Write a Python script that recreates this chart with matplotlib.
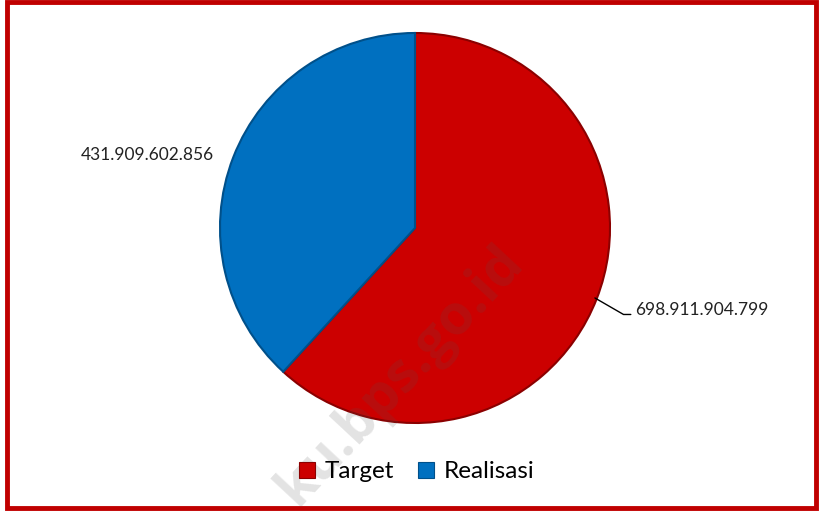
import matplotlib.pyplot as plt
import numpy as np
from matplotlib.patches import Rectangle

# data
labels = ['Target', 'Realisasi']
values = [698911904799, 431909602856]
value_text = ['698.911.904.799', '431.909.602.856']
colors = ['#CC0000', '#0070C0']
edge_colors = ['#8B0000', '#00508A']

plt.rcParams['font.family'] = ['Lato', 'DejaVu Sans']

W, H = 819, 513
fig = plt.figure(figsize=(W / 100, H / 100), dpi=100)

# red frame around the whole chart
fig.patches.append(Rectangle((7 / W, 5 / H), (816 - 7) / W, (511 - 5) / H,
                             transform=fig.transFigure, fill=False,
                             edgecolor='#C00000', linewidth=3.5))

cx, cy, r = 415, 228, 195
ax = fig.add_axes([(cx - r) / W, (H - cy - r) / H, 2 * r / W, 2 * r / H])
wedges, _ = ax.pie(values, colors=colors, startangle=90, counterclock=False,
                   radius=1.0, wedgeprops=dict(linewidth=1.5))
for w, ec in zip(wedges, edge_colors):
    w.set_edgecolor(ec)
ax.set_xlim(-1, 1)
ax.set_ylim(-1, 1)
ax.set_aspect('equal')
ax.axis('off')

# data labels
mids = [np.deg2rad((w.theta1 + w.theta2) / 2) for w in wedges]
# Target: leader line
m = mids[0]
px, py = np.cos(m) * 0.99, np.sin(m) * 0.99
ax.annotate(value_text[0], xy=(px, py), xytext=(1.128, py - 0.06),
            fontsize=12.5, va='center', ha='left', color='#222222',
            arrowprops=dict(arrowstyle='-', color='black', lw=1,
                            connectionstyle='angle,angleA=180,angleB=-30,rad=0',
                            shrinkA=1, shrinkB=0, relpos=(0, 0.2)),
            annotation_clip=False)
# Realisasi
m = mids[1]
ax.text(-1.03, np.sin(m) * 1.03, value_text[1], fontsize=12.5, ha='right',
        va='center', color='#222222', clip_on=False)

# legend
handles = [Rectangle((0, 0), 1, 1, facecolor=c, edgecolor=ec, lw=0.8)
           for c, ec in zip(colors, edge_colors)]
fig.legend(handles, labels, loc='center', bbox_to_anchor=(417 / W, 1 - 472 / H),
           ncol=2, frameon=False, fontsize=17.5, handlelength=0.65,
           handleheight=0.65, handletextpad=0.4, columnspacing=1.0)

# watermark
fig.text(400 / W, 1 - 375 / H, 'ku.bps.go.id', rotation=47, fontsize=40,
         fontweight='bold', color='#555555', alpha=0.17, ha='center',
         va='center', family=['Open Sans', 'DejaVu Sans'])

fig.savefig('out.png', dpi=100)
